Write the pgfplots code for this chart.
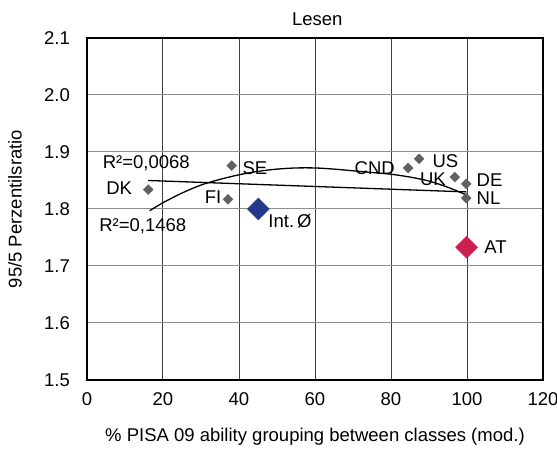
\documentclass[border=0pt]{standalone}
\usepackage{fontspec}
\setmainfont{Liberation Sans}
\usepackage{pgfplots}
\pgfplotsset{compat=1.18}

\definecolor{ptgray}{HTML}{616161}
\definecolor{intblue}{HTML}{233A8B}
\definecolor{atred}{HTML}{CC1F52}

\begin{document}
\begin{tikzpicture}
\begin{axis}[
    scale only axis,
    width=456pt, height=342pt,
    xmin=0, xmax=120, ymin=1.5, ymax=2.1,
    xtick={0,20,...,120},
    ytick={1.5,1.6,...,2.1},
    yticklabel style={/pgf/number format/fixed, /pgf/number format/fixed zerofill, /pgf/number format/precision=1},
    font=\fontsize{18.5}{22}\selectfont,
    /pgf/number format/assume math mode=true,
    major tick length=0pt,
    xticklabel style={anchor=north, inner sep=0pt, yshift=-12pt},
    yticklabel style={anchor=east, inner sep=0pt, xshift=-17pt},
    grid=major,
    x grid style={draw=black!75, line width=1pt},
    y grid style={draw=black!45, line width=1pt},
    axis line style={line width=2pt},
    xlabel={\% PISA 09 ability grouping between classes (mod.)},
    xlabel style={at={(axis description cs:0.5,-0.167)}, anchor=center},
    ylabel={95/5 Perzentilsratio},
    ylabel style={at={(axis description cs:-0.158,0.5)}, anchor=center},
    clip=false,
]

% countries
\addplot[only marks, mark=square*, mark size=3.5pt, mark options={rotate=45, fill=ptgray, draw=ptgray}]
coordinates {
    (16.1,1.834) (38.1,1.876) (37.1,1.817) (84.5,1.872) (87.4,1.888)
    (96.8,1.856) (99.8,1.844) (99.8,1.819)
};

% linear trend (R^2=0,0068)
\addplot[black, line width=1.3pt] coordinates {(16.1,1.850) (99.8,1.830)};

% polynomial trend (R^2=0,1468)
\addplot[black, line width=1.3pt, smooth] coordinates {
    (16.5,1.797) (20,1.811) (25,1.828) (30,1.842) (35,1.852) (40,1.860)
    (45,1.866) (50,1.870) (55,1.872) (60,1.872) (65,1.870) (70,1.867)
    (75,1.864) (80,1.861) (85,1.856) (90,1.849) (95,1.838) (99.7,1.825)
};

% international average and Austria
\addplot[only marks, mark=square*, mark size=7.8pt, mark options={rotate=45, fill=intblue, draw=intblue}]
coordinates {(45.1,1.800)};
\addplot[only marks, mark=square*, mark size=7.8pt, mark options={rotate=45, fill=atred, draw=atred}]
coordinates {(99.9,1.733)};

\begin{scope}[every node/.style={inner sep=0pt}]
\node[anchor=base] at ([yshift=12pt]rel axis cs:0.505,1) {Lesen};
\node[anchor=base west] at (axis cs:4.1,1.8705) {R²=0,0068};
\node[anchor=base west] at (axis cs:3.2,1.760) {R²=0,1468};
\node[anchor=base east] at (axis cs:11.9,1.8247) {DK};
\node[anchor=base west] at (axis cs:40.9,1.860) {SE};
\node[anchor=base east] at (axis cs:35.4,1.810) {FI};
\node[anchor=base west] at (axis cs:47.7,1.7677) {Int.\,Ø};
\node[anchor=base east] at (axis cs:81.05,1.860) {CND};
\node[anchor=base west] at (axis cs:90.9,1.8735) {US};
\node[anchor=base west] at (axis cs:87.6,1.841) {UK};
\node[anchor=base west] at (axis cs:102.5,1.8393) {DE};
\node[anchor=base west] at (axis cs:102.5,1.8083) {NL};
\node[anchor=base west] at (axis cs:104.5,1.7219) {AT};
\end{scope}
\end{axis}
\pgfresetboundingbox
\path (-87pt,-69pt) rectangle (470pt,380pt);
\end{tikzpicture}
\end{document}
